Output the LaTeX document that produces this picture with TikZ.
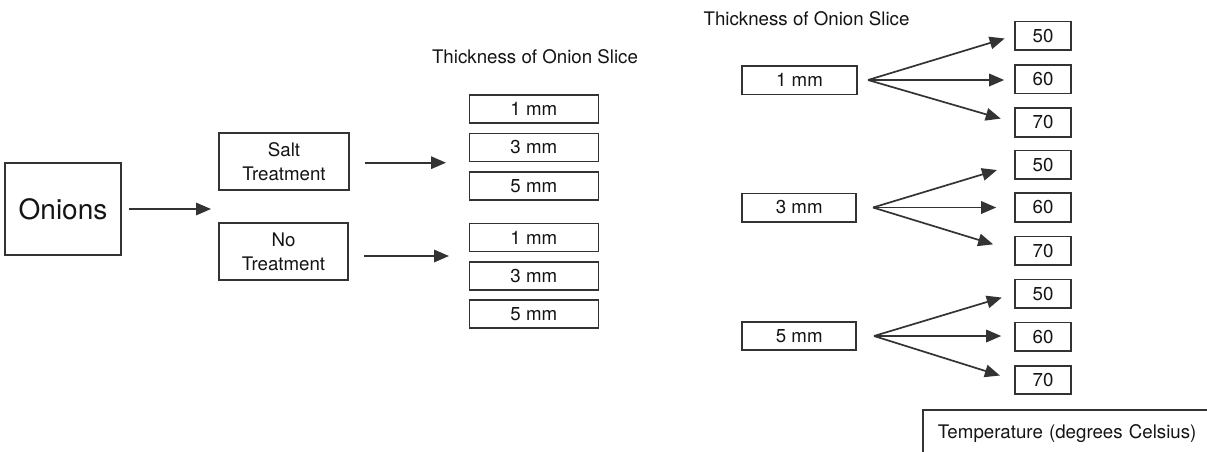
\documentclass[tikz,border=0pt]{standalone}
\usepackage{fontspec}
\setmainfont{TeX Gyre Heros}
\usetikzlibrary{arrows.meta}

\tikzset{
  stdfont/.style={font=\fontsize{18.7}{24}\selectfont},
  box/.style={draw=black!80, line width=1.6pt, rectangle, inner sep=0pt,
    text=black!92, stdfont},
  slicebox/.style={box, minimum width=129pt, minimum height=28pt},
  tempbox/.style={box, minimum width=56pt, minimum height=28.5pt},
  title/.style={text=black!92, stdfont, inner sep=0pt},
  arr/.style={draw=black!80, line width=1.7pt,
    -{Triangle[length=15pt,width=12.5pt]}},
}

\begin{document}
\begin{tikzpicture}[x=1pt,y=-1pt]
\useasboundingbox (0,0) rectangle (1207,451);
\clip (0,0) rectangle (1207,451);

% ---- left half: treatments and slice thicknesses ----
\node[box, minimum width=116pt, minimum height=92pt,
      font=\fontsize{28}{32}\selectfont] (onions) at (63,209) {Onions};

\node[box, minimum width=130pt, minimum height=57pt, align=center] (salt)
  at (284,161.5) {Salt\\Treatment};
\node[box, minimum width=129pt, minimum height=57pt, align=center] (notr)
  at (283.5,251.5) {No\\Treatment};

\node[title] (titleL) at (535,57) {Thickness of Onion Slice};

\node[slicebox] (sa1) at (533.8,109.2) {1 mm};
\node[slicebox] (sa3) at (533.8,147.5) {3 mm};
\node[slicebox] (sa5) at (533.8,185.8) {5 mm};
\node[slicebox] (nt1) at (533.8,237.5) {1 mm};
\node[slicebox] (nt3) at (533.8,275.8) {3 mm};
\node[slicebox] (nt5) at (533.8,314.2) {5 mm};

\coordinate (onionTip) at (211,209);
\coordinate (saltTip) at (446,162.7);
\coordinate (notrTip) at (449,256);

\draw[arr, shorten <=7pt] (onions.east) -- (onionTip);
\draw[arr, shorten <=15pt] (salt.east |- saltTip) -- (saltTip);
\draw[arr, shorten <=15pt] (notr.east |- notrTip) -- (notrTip);

% ---- right half: slice thickness to drying temperature ----
\node[title] (titleR) at (806.5,19) {Thickness of Onion Slice};

\node[box, minimum width=114.5pt, minimum height=28.6pt] (r1) at (799.5,80) {1 mm};
\node[box, minimum width=114pt, minimum height=28.4pt] (r3) at (799.2,207.5) {3 mm};
\node[box, minimum width=114pt, minimum height=28.4pt] (r5) at (799.2,336) {5 mm};

\node[tempbox] (a50) at (1043,35.6) {50};
\node[tempbox] (a60) at (1043,79.2) {60};
\node[tempbox] (a70) at (1043,122.5) {70};
\node[tempbox] (b50) at (1043,164.8) {50};
\node[tempbox] (b60) at (1043,207.5) {60};
\node[tempbox] (b70) at (1043,250.8) {70};
\node[tempbox] (c50) at (1043,293.8) {50};
\node[tempbox] (c60) at (1043,336.7) {60};
\node[tempbox] (c70) at (1043,380) {70};

\coordinate (fanA) at (868,80);
\coordinate (fanB) at (873,207.5);
\coordinate (fanC) at (874,336);

\draw[arr, shorten >=10pt] (fanA) -- (a50.west);
\draw[arr, shorten >=10pt] (fanA) -- (a60.west |- fanA);
\draw[arr, shorten >=14pt] (fanA) -- (a70.west);

\draw[arr, shorten >=18pt] (fanB) -- (b50.west);
\draw[arr, shorten >=18pt] (fanB) -- (b60.west |- fanB);
\draw[arr, shorten >=22pt] (fanB) -- (b70.west);

\draw[arr, shorten >=13pt] (fanC) -- (c50.west);
\draw[arr, shorten >=13pt] (fanC) -- (c60.west |- fanC);
\draw[arr, shorten >=15pt] (fanC) -- (c70.west);

% legend box, running off the lower right edge
\node[box, anchor=north west, inner xsep=15pt, inner ysep=0pt,
      minimum height=48pt, text width=290pt] (legend) at (922,409)
  {Temperature (degrees Celsius)};
\end{tikzpicture}
\end{document}
